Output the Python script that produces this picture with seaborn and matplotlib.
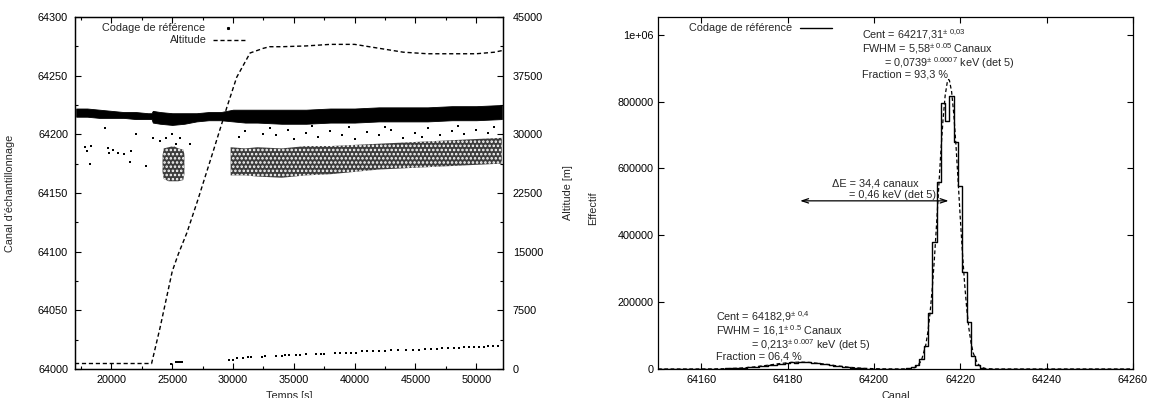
import matplotlib
matplotlib.use("Agg")
import matplotlib.pyplot as plt
import seaborn as sns
from matplotlib.ticker import MultipleLocator, FuncFormatter

# ---------------- left panel : reference coding vs time ----------------
# dense main band (upper / lower edge of the black band), channel units
band_t = [17100, 18000, 19000, 20000, 21000, 22000, 23000, 23300, 23400, 24000, 25000,
          26000, 27000, 28000, 29000, 30000, 31000, 32000, 34000, 36000, 38000, 40000,
          42000, 44000, 46000, 48000, 50000, 52100]
band_hi = [64222, 64222, 64221, 64220, 64219, 64219, 64218, 64218, 64220, 64219, 64218,
           64218, 64218, 64219, 64219, 64221, 64221, 64221, 64221, 64221, 64222, 64222,
           64223, 64223, 64223, 64224, 64224, 64225]
band_lo = [64215, 64215, 64214, 64214, 64214, 64213, 64213, 64213, 64210, 64209, 64208,
           64209, 64211, 64212, 64212, 64211, 64210, 64210, 64209, 64209, 64210, 64210,
           64211, 64211, 64211, 64212, 64212, 64213]

# speckled secondary clusters
clus1_t = [24200, 24300, 24700, 25100, 25500, 25900, 26000]
clus1_hi = [64182, 64188, 64189, 64190, 64188, 64187, 64183]
clus1_lo = [64168, 64162, 64160, 64160, 64160, 64161, 64166]

clus2_t = [29800, 31000, 32000, 34000, 36000, 38000, 40000, 42000, 44000, 46000,
           48000, 50000, 52100]
clus2_hi = [64189, 64188, 64189, 64188, 64190, 64190, 64191, 64192, 64193, 64194,
            64195, 64196, 64197]
clus2_lo = [64165, 64165, 64164, 64163, 64165, 64166, 64168, 64170, 64171, 64172,
            64173, 64174, 64175]

# isolated points
sparse_t = [17800, 18000, 18300, 18200, 19700, 19800, 20100, 20500, 21000, 21600, 21500,
            22800, 23400, 24000, 24500, 25000, 25600, 25300, 26500, 22000, 19500,
            30500, 31000, 32500, 33000, 33500, 34500, 35000, 36000, 36500, 37000, 38000,
            39000, 39500, 40000, 41000, 42000, 42500, 43000, 44000, 45000, 45500, 46000,
            47000, 48000, 48500, 49000, 50000, 51000, 51500]
sparse_ch = [64189, 64186, 64190, 64175, 64188, 64184, 64187, 64184, 64183, 64186, 64176,
             64173, 64197, 64194, 64197, 64200, 64197, 64192, 64192, 64200, 64205,
             64198, 64203, 64200, 64205, 64199, 64204, 64196, 64201, 64207, 64198, 64203,
             64199, 64206, 64196, 64202, 64199, 64206, 64204, 64197, 64201, 64198, 64205,
             64199, 64203, 64207, 64200, 64204, 64201, 64206]

# low population near the bottom
low_t = [24900, 25300, 25400, 25500, 25600, 25700, 25800,
         29700, 30000, 30300, 30800, 31200, 31500, 32400, 32600, 33500, 34000, 34300,
         34600, 35200, 35500, 36000, 36800, 37200, 37500, 38400, 38800, 39300, 39700,
         40100, 40600, 41000, 41500, 42000, 42500, 43000, 43600, 44200, 44800, 45300,
         45800, 46300, 46800, 47200, 47700, 48200, 48600, 49000, 49400, 49800, 50200,
         50600, 51000, 51400, 51800]
low_ch = [64004, 64006, 64006, 64006, 64006, 64006, 64006,
          64008, 64008, 64009, 64009, 64010, 64010, 64010, 64011, 64011, 64011, 64012,
          64012, 64012, 64012, 64013, 64013, 64013, 64013, 64014, 64014, 64014, 64014,
          64014, 64015, 64015, 64015, 64015, 64015, 64016, 64016, 64016, 64016, 64016,
          64017, 64017, 64017, 64018, 64018, 64018, 64018, 64019, 64019, 64019, 64019,
          64019, 64020, 64020, 64020]

# altitude (m)
alt_t = [17000, 23300, 24000, 24500, 25000, 25500, 26200, 27100, 28400, 29500, 30300,
         31400, 32500, 33000, 34000, 36000, 38000, 40000, 42000, 44000, 46000, 48000,
         50000, 51500, 52100]
alt_m = [700, 700, 5300, 8900, 12500, 14700, 17400, 21600, 28000, 33500, 37300,
         40400, 41000, 41200, 41200, 41300, 41500, 41500, 41000, 40500, 40300, 40300,
         40300, 40500, 40700]

# ---------------- right panel : histogram of the reference coding ----------------
hist_chan = list(range(64150, 64260))
hist_counts = [
    0, 0, 100, 0, 200, 100, 0, 200, 300, 200,                                   # 64150
    300, 400, 600, 500, 900, 1100, 1500, 1800, 2600, 2900,                      # 64160
    3800, 4600, 5400, 6900, 8200, 9600, 11800, 13100, 15400, 16200,             # 64170
    18500, 19800, 19200, 21300, 20100, 20900, 18700, 17600, 16100, 14400,       # 64180
    12500, 10400, 8900, 7100, 5200, 4100, 2900, 2100, 1300, 900,                # 64190
    600, 400, 300, 200, 200, 300, 500, 700, 2000, 5000,                         # 64200
    12000, 30000, 70000, 168000, 380000, 560000, 797000, 743000, 816000, 680000,  # 64210
    547000, 290000, 141000, 40000, 12000, 3000, 800, 300, 100, 0,               # 64220
    0, 0, 0, 0, 0, 0, 0, 0, 0, 0,                                               # 64230
    0, 0, 0, 0, 0, 0, 0, 0, 0, 0,                                               # 64240
    0, 0, 0, 0, 0, 0, 0, 0, 0, 0,                                               # 64250
]

# fitted curve (two peaks)
fit_x = [64150, 64155, 64160, 64163, 64166, 64169, 64172, 64175, 64178, 64181, 64183,
         64185, 64188, 64191, 64194, 64197, 64200, 64203, 64206, 64208, 64209, 64210,
         64211, 64212, 64212.5, 64213, 64213.5, 64214, 64214.5, 64215, 64215.5, 64216,
         64216.5, 64217, 64217.3, 64217.5, 64218, 64218.5, 64219, 64219.5, 64220,
         64220.5, 64221, 64221.5, 64222, 64222.5, 64223, 64224, 64225, 64226, 64228,
         64230, 64260]
fit_y = [0, 5, 76, 300, 975, 2600, 5800, 10600, 15900, 19800, 20600,
         19650, 15600, 10200, 5520, 2460, 906, 275, 80, 430, 1900, 7500,
         25300, 71000, 111000, 167000, 239000, 328000, 431000, 541000, 649000, 745000,
         818000, 859000, 866000, 863000, 829000, 762000, 670000, 563000, 452000,
         348000, 256000, 180000, 121000, 78000, 48000, 15900, 4400, 1000, 32,
         0, 0]

# ---------------- style ----------------
sns.set_style("ticks")
plt.rcParams["font.family"] = ["Liberation Sans", "DejaVu Sans"]
plt.rcParams["font.size"] = 7.8
plt.rcParams["mathtext.fontset"] = "custom"
plt.rcParams["mathtext.rm"] = "Liberation Sans"
plt.rcParams["mathtext.it"] = "Liberation Sans:italic"
plt.rcParams["mathtext.sf"] = "Liberation Sans"
plt.rcParams["hatch.linewidth"] = 1.2
plt.rcParams["axes.edgecolor"] = "black"
plt.rcParams["axes.linewidth"] = 0.9

fig = plt.figure(figsize=(11.5, 3.98), dpi=100)
ax1 = fig.add_axes([0.0652, 0.0729, 0.3722, 0.8844])
ax2 = ax1.twinx()
ax3 = fig.add_axes([0.5722, 0.0729, 0.4130, 0.8844])

dash = (0, (3, 2))

# left panel
ax1.fill_between(band_t, band_lo, band_hi, color="black", lw=0.6)
for ct, clo, chi in [(clus1_t, clus1_lo, clus1_hi), (clus2_t, clus2_lo, clus2_hi)]:
    ax1.fill_between(ct, clo, chi, facecolor="#3c3c3c", edgecolor="white",
                     hatch="....", lw=0)
sns.scatterplot(x=sparse_t, y=sparse_ch, ax=ax1, color="black", s=1.2, marker="s",
                linewidth=0, legend=False)
sns.scatterplot(x=low_t, y=low_ch, ax=ax1, color="black", s=1.5, marker="s",
                linewidth=0, legend=False)
sns.lineplot(x=alt_t, y=alt_m, ax=ax2, color="black", lw=1, linestyle=dash,
             legend=False)

ax1.set_xlim(17000, 52200)
ax1.set_ylim(64000, 64300)
ax2.set_ylim(0, 45000)
ax1.xaxis.set_major_locator(MultipleLocator(5000))
ax1.xaxis.set_minor_locator(MultipleLocator(2500))
ax1.yaxis.set_major_locator(MultipleLocator(50))
ax1.yaxis.set_minor_locator(MultipleLocator(25))
ax2.yaxis.set_major_locator(MultipleLocator(7500))
ax2.yaxis.set_minor_locator(MultipleLocator(3750))
ax1.ticklabel_format(useOffset=False, style="plain")
ax1.tick_params(which="both", direction="in", top=True, right=False, colors="black")
ax1.tick_params(which="major", length=4.5, width=0.8)
ax1.tick_params(which="minor", length=2.5, width=0.8)
ax1.tick_params(axis="y", pad=5)
ax1.tick_params(axis="x", pad=4)
ax2.tick_params(which="both", direction="in", left=False, right=True, colors="black", pad=7)
ax2.tick_params(which="major", length=4.5, width=0.8)
ax2.tick_params(which="minor", length=2.5, width=0.8)

ax1.set_xlabel("Temps [s]")
ax1.set_ylabel("Canal d'échantillonnage")
ax2.set_ylabel("Altitude [m]", rotation=90)
ax1.xaxis.set_label_coords(0.5, -0.062)
ax1.yaxis.set_label_coords(-0.140, 0.5)
ax2.yaxis.set_label_coords(1.140, 0.5)

ax1.text(0.304, 0.969, "Codage de référence", transform=ax1.transAxes,
         ha="right", va="center")
ax1.plot([0.357], [0.969], transform=ax1.transAxes, marker="s", ms=1.2,
         color="black", ls="none")
ax1.text(0.308, 0.935, "Altitude", transform=ax1.transAxes, ha="right", va="center")
ax1.plot([0.322, 0.397], [0.935, 0.935], transform=ax1.transAxes, color="black",
         lw=1, ls=dash)

# right panel
sns.lineplot(x=hist_chan, y=hist_counts, ax=ax3, color="black", lw=1,
             drawstyle="steps-mid", legend=False)
sns.lineplot(x=fit_x, y=fit_y, ax=ax3, color="black", lw=0.9, linestyle=dash,
             legend=False)

ax3.set_xlim(64150, 64260)
ax3.set_ylim(0, 1.053e6)
ax3.xaxis.set_major_locator(MultipleLocator(20))
ax3.yaxis.set_major_locator(MultipleLocator(200000))
ax3.yaxis.set_major_formatter(FuncFormatter(lambda v, p: "1e+06" if v >= 1e6 else f"{v:.0f}"))
ax3.xaxis.set_major_formatter(FuncFormatter(lambda v, p: f"{v:.0f}"))
ax3.tick_params(direction="in", top=True, right=True, length=4.5, width=0.8,
                colors="black")
ax3.tick_params(axis="y", pad=3)
ax3.tick_params(axis="x", pad=4)
ax3.set_xlabel("Canal")
ax3.set_ylabel("Effectif")
ax3.xaxis.set_label_coords(0.5, -0.062)
ax3.yaxis.set_label_coords(-0.126, 0.457)

ax3.text(0.282, 0.969, "Codage de référence", transform=ax3.transAxes,
         ha="right", va="center")
ax3.plot([0.299, 0.366], [0.969, 0.969], transform=ax3.transAxes, color="black", lw=1)

# upper peak annotation
ax3.text(64197.2, 1000000, r"Cent = 64217,31$^{\pm\ 0{,}03}$", va="center")
ax3.text(64197.2, 959000, r"FWHM = 5,58$^{\pm\ 0.05}$ Canaux", va="center")
ax3.text(64202.3, 915000, r"= 0,0739$^{\pm\ 0.0007}$ keV (det 5)", va="center")
ax3.text(64197.2, 882000, "Fraction = 93,3 %", va="center")

# lower peak annotation
ax3.text(64163.5, 156000, r"Cent = 64182,9$^{\pm\ 0{,}4}$", va="center")
ax3.text(64163.5, 114000, r"FWHM = 16,1$^{\pm\ 0.5}$ Canaux", va="center")
ax3.text(64171.5, 72000, r"= 0,213$^{\pm\ 0.007}$ keV (det 5)", va="center")
ax3.text(64163.5, 38000, "Fraction = 06,4 %", va="center")

# energy separation
ax3.annotate("", xy=(64182.9, 503000), xytext=(64217.3, 503000),
             arrowprops=dict(arrowstyle="<->,head_length=0.6,head_width=0.2",
                             color="black", lw=0.9, shrinkA=0, shrinkB=0))
ax3.text(64190.3, 556000, "ΔE = 34,4 canaux", va="center")
ax3.text(64194.3, 520000, "= 0,46 keV (det 5)", va="center")

fig.savefig("out.png", dpi=100)
